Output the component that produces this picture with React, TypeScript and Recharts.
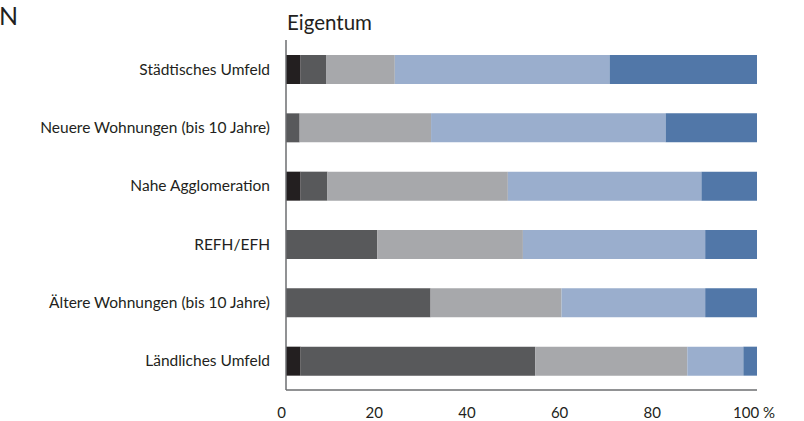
import React from "react";
import { BarChart, Bar, XAxis, YAxis } from "recharts";

// Wohnsituation nach Segment – Anteile in Prozent (Eigentum)
const categories = [
  "Städtisches Umfeld",
  "Neuere Wohnungen (bis 10 Jahre)",
  "Nahe Agglomeration",
  "REFH/EFH",
  "Ältere Wohnungen (bis 10 Jahre)",
  "Ländliches Umfeld",
];

const seriesA = [3.1, 0, 3.1, 0, 0, 3.1];
const seriesB = [5.4, 2.9, 5.7, 19.4, 30.7, 49.8];
const seriesC = [14.6, 27.9, 38.3, 30.9, 27.8, 32.3];
const seriesD = [45.6, 49.8, 41.1, 38.7, 30.5, 11.9];
const seriesE = [31.3, 19.4, 11.8, 11.0, 11.0, 2.9];

const xTicks = [0, 20, 40, 60, 80, 100];

const seriesColors = ["#231f20", "#58595b", "#a7a8ab", "#9aaecd", "#5177a8"];

const data = categories.map((name, i) => ({
  name,
  a: seriesA[i],
  b: seriesB[i],
  c: seriesC[i],
  d: seriesD[i],
  e: seriesE[i],
}));

const FONT = "Lato, 'Noto Sans', sans-serif";

const renderXTick = (props: any) => {
  const { x, y, payload } = props;
  const v = payload.value as number;
  const label = v === 100 ? "100 %" : String(v);
  const shift = -4.5 - v * 0.075;
  return (
    <text
      x={v === 100 ? x + shift - 12 : x + shift}
      y={y}
      dy="0.71em"
      textAnchor={v === 100 ? "start" : "middle"}
      fontSize={15}
      fontFamily={FONT}
      fill="#231f20"
    >
      {label}
    </text>
  );
};

export default function App() {
  return (
    <div style={{ position: "absolute", left: 0, top: 0, width: 804, height: 421, background: "#fff" }}>
      <svg width={804} height={421} style={{ position: "absolute", left: 0, top: 0 }}>
        <text x={-1} y={25} fontSize={25} fontFamily={FONT} fill="#231f20">
          N
        </text>
        <text x={287} y={30} fontSize={20.5} fontFamily={FONT} fill="#231f20">
          Eigentum
        </text>
      </svg>
      <div style={{ position: "absolute", left: 0, top: 0 }}>
        <BarChart
          width={804}
          height={421}
          data={data}
          layout="vertical"
          margin={{ top: 40, right: 47, bottom: 0, left: 0 }}
        >
          <XAxis
            type="number"
            domain={[0, 100]}
            ticks={xTicks}
            tickLine={false}
            axisLine={{ stroke: "#6d6e71", strokeWidth: 1.5 }}
            tickSize={6}
            tickMargin={11}
            height={31}
            tick={renderXTick}
          />
          <YAxis
            type="category"
            dataKey="name"
            width={286}
            tickLine={false}
            axisLine={{ stroke: "#6d6e71", strokeWidth: 1.5 }}
            tickSize={6}
            tickMargin={10}
            tick={{ fontSize: 15.5, fontFamily: FONT, fill: "#231f20" }}
            interval={0}
          />
          <Bar dataKey="a" stackId="s" barSize={29} fill={seriesColors[0]} isAnimationActive={false} />
          <Bar dataKey="b" stackId="s" barSize={29} fill={seriesColors[1]} isAnimationActive={false} />
          <Bar dataKey="c" stackId="s" barSize={29} fill={seriesColors[2]} isAnimationActive={false} />
          <Bar dataKey="d" stackId="s" barSize={29} fill={seriesColors[3]} isAnimationActive={false} />
          <Bar dataKey="e" stackId="s" barSize={29} fill={seriesColors[4]} isAnimationActive={false} />
        </BarChart>
      </div>
    </div>
  );
}
